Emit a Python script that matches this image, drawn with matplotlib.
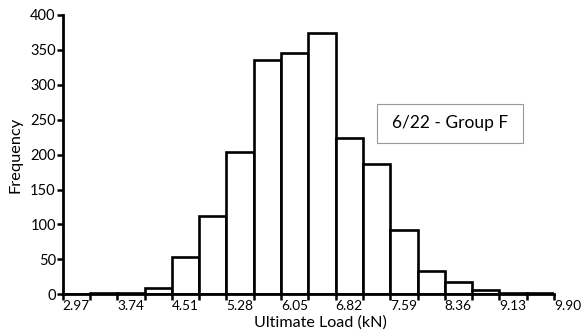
import numpy as np
import matplotlib
matplotlib.use("Agg")
import matplotlib.pyplot as plt
from matplotlib.patches import Rectangle

# ------------------------
# DATA
# ------------------------
x_min = 2.97
x_max = 9.90
counts = [0, 1.5, 1.5, 9.5, 54, 112, 204, 336, 346, 374,
          224, 186, 92, 33, 17, 6, 1.5, 1.5]
tick_labels = ["2.97", "3.74", "4.51", "5.28", "6.05",
               "6.82", "7.59", "8.36", "9.13", "9.90"]
y_ticks = [0, 50, 100, 150, 200, 250, 300, 350, 400]
box_text = "6/22 - Group F"

plt.rcParams["font.family"] = ["Lato", "DejaVu Sans"]

edges = np.linspace(x_min, x_max, len(counts) + 1)
widths = np.diff(edges)

fig = plt.figure(figsize=(5.81, 3.35), dpi=100)
ax = fig.add_axes([62.7 / 581, 1 - 294.3 / 335, (554 - 62.7) / 581, (294.3 - 15) / 335])

ax.bar(edges[:-1], counts, width=widths, align="edge",
       facecolor="white", edgecolor="black", linewidth=1.9)

ax.set_xlim(x_min, x_max)
ax.set_ylim(0, 400)

ax.set_xticks(edges, minor=True)
ax.set_xticks([float(t) for t in tick_labels])
ax.set_xticklabels(tick_labels, ha="left")
ax.set_yticks(y_ticks)

for s in ("top", "right"):
    ax.spines[s].set_visible(False)
for s in ("left", "bottom"):
    ax.spines[s].set_linewidth(2.0)

ax.tick_params(axis="both", which="both", direction="out", width=1.8, length=4)
ax.tick_params(axis="x", pad=0.2, labelsize=9.8)
ax.tick_params(axis="y", pad=1, labelsize=10.5)

ax.set_xlabel("Ultimate Load (kN)", fontsize=11.6)
ax.xaxis.set_label_coords(0.524, -0.074)
ax.set_ylabel("Frequency", fontsize=11.8)
ax.yaxis.set_label_coords(-0.081, 0.5)

# label box
ax.add_patch(Rectangle((0.640, 0.540), 0.297, 0.140, transform=ax.transAxes,
                       facecolor="white", edgecolor="#999999", linewidth=0.8,
                       zorder=5, clip_on=False))
ax.text(0.788, 0.612, box_text, transform=ax.transAxes, fontsize=12.5,
        ha="center", va="center", zorder=6)

fig.savefig("out.png", dpi=100)
